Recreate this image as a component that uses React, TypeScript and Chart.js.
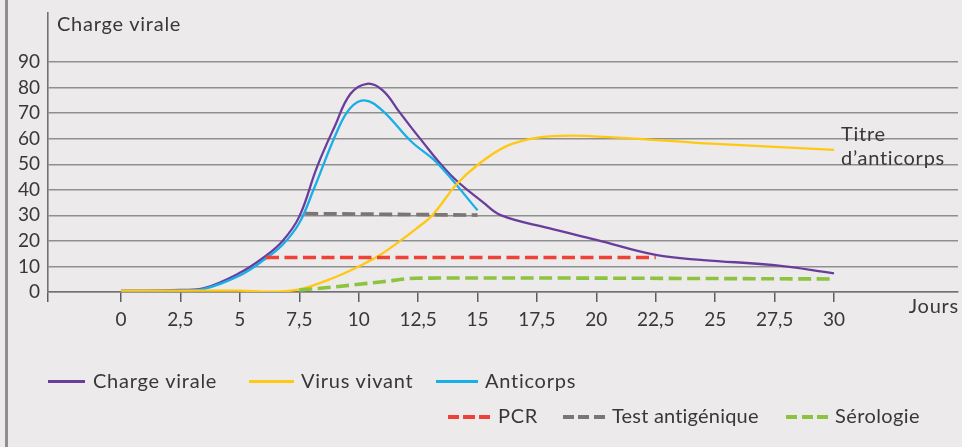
import React, { useEffect, useRef } from "react";
import { Chart, registerables } from "chart.js";

Chart.register(...registerables);

// ---- data ----
const xTickValues = [0, 2.5, 5, 7.5, 10, 12.5, 15, 17.5, 20, 22.5, 25, 27.5, 30];
const yTickValues = [0, 10, 20, 30, 40, 50, 60, 70, 80, 90];

const chargeDays = [0, 2.5, 3.5, 5, 6, 6.8, 7.5, 8.25, 9, 9.65, 10.35, 11, 11.75, 12.5, 13.85, 15.25, 16, 18, 20, 22.5, 24.5, 27.5, 30];
const chargeValues = [0.5, 0.8, 1.5, 7.5, 13.5, 20, 29.5, 49, 65, 77.5, 81.5, 79, 70, 61, 46, 35, 30, 25, 20.4, 14.5, 12.5, 10.5, 7.3];

const virusDays = [0, 5, 6.2, 7.5, 8.9, 10, 10.9, 11.75, 12.45, 13.1, 14.1, 15, 16.2, 17.6, 19, 20.7, 24.4, 30];
const virusValues = [0.5, 0.5, 0.1, 1, 5.4, 10, 14.5, 20, 25, 30, 42, 49.7, 57, 60.5, 61.2, 60.5, 58.3, 55.6];

const anticorpsDays = [0, 2.5, 3.5, 5, 6, 6.8, 7.5, 8.1, 9.1, 9.65, 10.25, 11, 12.2, 13.3, 15];
const anticorpsValues = [0, 0.5, 1.2, 6.5, 12.5, 18.5, 27, 40, 63, 72, 75, 71, 59, 50.5, 32];

const pcrDays = [6.1, 22.5];
const pcrValues = [13.5, 13.5];

const antigenDays = [7.75, 15];
const antigenValues = [30.7, 30.1];

const serologieDays = [7.5, 9, 10, 11, 12.4, 15, 30];
const serologieValues = [0.8, 2, 3, 4, 5.4, 5.5, 5.1];

const X_MIN = -3.0715;
const X_MAX = 35.217;
const Y_MAX = 109.2;

const FONT = "Lato";
const TEXT = "#383838";

const C_PURPLE = "#6a3d9c";
const C_YELLOW = "#ffc813";
const C_BLUE = "#18aee8";
const C_RED = "#ef4135";
const C_GRAY = "#7b7675";
const C_GREEN = "#8cc43f";

const pts = (xs: number[], ys: number[]) => xs.map((x, i) => ({ x, y: ys[i] }));

function Line({ left, top, width, color, dashed }: { left: number; top: number; width: number; color: string; dashed?: boolean }) {
  return (
    <div
      style={{
        position: "absolute",
        left,
        top: top - (dashed ? 2 : 1.5),
        width,
        height: dashed ? 4 : 3,
        background: dashed
          ? `repeating-linear-gradient(to right, ${color} 0px, ${color} 11px, transparent 11px, transparent 15.5px)`
          : color,
      }}
    />
  );
}

function Label({ left, baseline, size, text, right, spacing = 0.75 }: { left?: number; baseline: number; size: number; text: string; right?: number; spacing?: number }) {
  const style: React.CSSProperties = {
    position: "absolute",
    top: baseline - 0.987 * size,
    fontFamily: FONT,
    fontSize: size,
    lineHeight: `${1.2 * size}px`,
    letterSpacing: `${spacing}px`,
    color: TEXT,
    whiteSpace: "nowrap",
  };
  if (right !== undefined) style.right = right;
  else style.left = left;
  return <div style={style}>{text}</div>;
}

export default function App() {
  const ref = useRef<HTMLCanvasElement | null>(null);

  useEffect(() => {
    if (!ref.current) return;
    const solid = (label: string, xs: number[], ys: number[], color: string, mono: boolean) => ({
      label,
      data: pts(xs, ys),
      borderColor: color,
      backgroundColor: color,
      borderWidth: 2.3,
      pointRadius: 0,
      fill: false,
      tension: 0.4,
      cubicInterpolationMode: mono ? ("monotone" as const) : ("default" as const),
    });
    const dashed = (label: string, xs: number[], ys: number[], color: string) => ({
      label,
      data: pts(xs, ys),
      borderColor: color,
      backgroundColor: color,
      borderWidth: 3.6,
      borderDash: [13, 5.5],
      pointRadius: 0,
      fill: false,
      cubicInterpolationMode: "monotone" as const,
    });

    const chart = new Chart(ref.current, {
      type: "line",
      data: {
        datasets: [
          dashed("Sérologie", serologieDays, serologieValues, C_GREEN),
          dashed("PCR", pcrDays, pcrValues, C_RED),
          dashed("Test antigénique", antigenDays, antigenValues, C_GRAY),
          solid("Virus vivant", virusDays, virusValues, C_YELLOW, true),
          solid("Anticorps", anticorpsDays, anticorpsValues, C_BLUE, false),
          solid("Charge virale", chargeDays, chargeValues, C_PURPLE, false),
        ],
      },
      options: {
        animation: false,
        responsive: false,
        events: [],
        layout: { padding: { left: 0, right: 4, top: 13, bottom: 0 } },
        plugins: { legend: { display: false }, tooltip: { enabled: false } },
        scales: {
          x: {
            type: "linear",
            min: X_MIN,
            max: X_MAX,
            afterBuildTicks: (s: any) => {
              s.ticks = [X_MIN, ...xTickValues].map((v) => ({ value: v }));
            },
            afterFit: (s: any) => {
              s.height = 155;
              s.paddingLeft = 0;
              s.paddingRight = 0;
            },
            grid: {
              drawOnChartArea: false,
              drawTicks: true,
              tickLength: 10,
              color: "#5e5e5e",
              lineWidth: 1.5,
            },
            border: { display: true, color: "#727272", width: 1.6 },
            ticks: {
              autoSkip: false,
              maxRotation: 0,
              padding: 6,
              color: TEXT,
              font: { family: FONT, size: 19 },
              callback: (v: any) => (v < -1 ? "" : String(v).replace(".", ",")),
            },
          },
          y: {
            type: "linear",
            min: 0,
            max: Y_MAX,
            afterBuildTicks: (s: any) => {
              s.ticks = yTickValues.map((v) => ({ value: v }));
            },
            afterFit: (s: any) => {
              s.width = 48;
              s.paddingTop = 0;
              s.paddingBottom = 0;
            },
            grid: { color: "#8f8f8f", lineWidth: 1.5, drawTicks: false },
            border: { display: true, color: "#727272", width: 1.6 },
            ticks: {
              padding: 8,
              color: TEXT,
              font: { family: FONT, size: 19 },
              callback: (v: any) => String(v),
            },
          },
        },
      },
    });
    return () => chart.destroy();
  }, []);

  return (
    <div
      style={{
        position: "fixed",
        left: 0,
        top: 0,
        width: 962,
        height: 447,
        background: "#ecEaeb",
        overflow: "hidden",
      }}
    >
      <div style={{ position: "absolute", left: 5, top: 0, width: 3, height: 447, background: "#8f8f8f" }} />
      <canvas ref={ref} width={962} height={447} style={{ position: "absolute", left: 0, top: 0 }} />
      <Label left={57} baseline={30.5} size={20} text="Charge virale" />
      <Label right={3} baseline={312.7} size={20} text="Jours" />
      <Label left={841} baseline={140.7} size={20} text="Titre" />
      <Label left={841} baseline={164.3} size={20} text="d’anticorps" />

      <Line left={48} top={381} width={37} color={C_PURPLE} />
      <Label left={93} baseline={387.7} size={20} text="Charge virale" />
      <Line left={249} top={381} width={45} color={C_YELLOW} />
      <Label left={301} baseline={387.7} size={20} text="Virus vivant" />
      <Line left={436} top={381} width={42} color={C_BLUE} />
      <Label left={485} baseline={387.7} size={20} text="Anticorps" />

      <Line left={448} top={416.5} width={42} color={C_RED} dashed />
      <Label left={498} baseline={423} size={20} text="PCR" />
      <Line left={563} top={416.5} width={42} color={C_GRAY} dashed />
      <Label left={612} baseline={423} size={20} text="Test antigénique" spacing={0.2} />
      <Line left={786} top={416.5} width={42} color={C_GREEN} dashed />
      <Label left={835} baseline={423} size={20} text="Sérologie" spacing={0.4} />
    </div>
  );
}
